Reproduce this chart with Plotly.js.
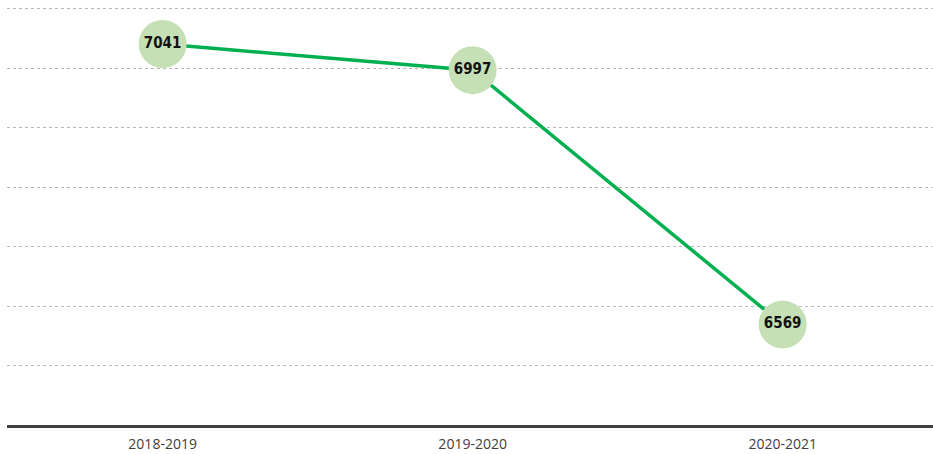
<!DOCTYPE html>
<html><head><meta charset="utf-8">
<script src="https://cdn.plot.ly/plotly-3.0.1.min.js"></script>
<style>html,body{margin:0;padding:0;background:#fff}#chart{width:933px;height:454px}</style>
</head><body><div id="chart"></div>
<script>
const categories = ["2018-2019", "2019-2020", "2020-2021"];
const values = [7041, 6997, 6569];
const labels = values.map(v => String(v));

const trace = {
  x: categories,
  y: values,
  text: labels,
  mode: "lines+markers+text",
  textposition: "middle center",
  textfont: {family: "DejaVu Sans Condensed", size: 15, color: "#111", weight: "bold"},
  line: {color: "#00b050", width: 3.5},
  marker: {size: 48, color: "#c5e0b4", line: {width: 0}},
  cliponaxis: false,
  hoverinfo: "skip"
};

const layout = {
  width: 933, height: 454,
  margin: {l: 7, r: 0, t: 3, b: 29},
  paper_bgcolor: "#fff", plot_bgcolor: "#fff",
  showlegend: false,
  xaxis: {
    type: "category", range: [-0.502, 2.485],
    showgrid: false, zeroline: false,
    showline: true, linecolor: "#404040", linewidth: 3,
    ticks: "", tickfont: {family: "Open Sans", size: 14, color: "#404040"},
    ticklabelstandoff: 4
  },
  yaxis: {
    range: [6400, 7110], dtick: 100, tick0: 6400,
    showticklabels: false, ticks: "", zeroline: false, showline: false,
    showgrid: true, gridcolor: "#b8b8b8", gridwidth: 1, griddash: "dot"
  }
};
Plotly.newPlot("chart", [trace], layout, {staticPlot: true, displayModeBar: false});
</script></body></html>
